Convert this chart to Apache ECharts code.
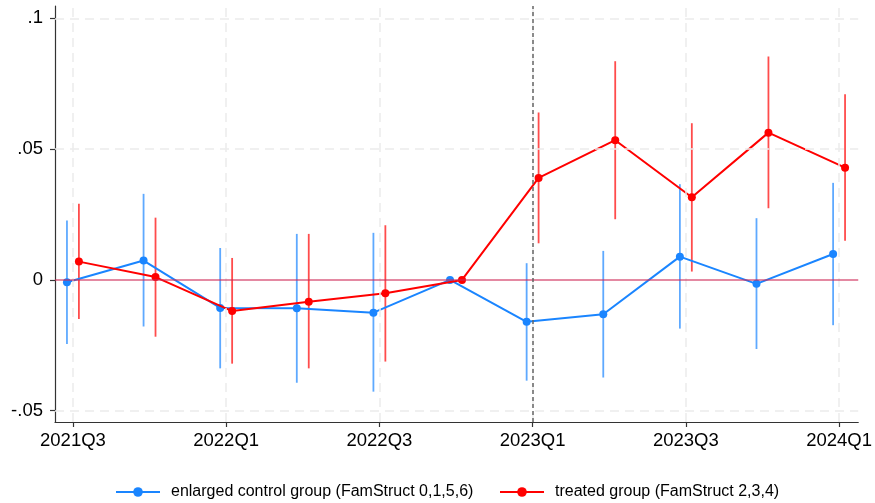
<!DOCTYPE html>
<html>
<head>
<meta charset="utf-8">
<script src="https://cdn.jsdelivr.net/npm/echarts@6/dist/echarts.min.js"></script>
<style>html,body{margin:0;padding:0;background:#fff;}#c{width:875px;height:503px;}</style>
</head>
<body>
<div id="c"></div>
<script>
const quarters = ['2021Q3','2021Q4','2022Q1','2022Q2','2022Q3','2022Q4','2023Q1','2023Q2','2023Q3','2023Q4','2024Q1'];
const xTickIdx = [0, 2, 4, 6, 8, 10];
const yTicks = [-0.05, 0, 0.05, 0.1];
const controlCoef = [-0.0009, 0.0074, -0.0107, -0.0108, -0.0125, 0, -0.0160, -0.0131, 0.0089, -0.0015, 0.0099];
const controlLo   = [-0.0245, -0.0178, -0.0338, -0.0393, -0.0427, null, -0.0385, -0.0373, -0.0186, -0.0264, -0.0173];
const controlHi   = [0.0227, 0.0329, 0.0122, 0.0176, 0.0180, null, 0.0064, 0.0111, 0.0366, 0.0236, 0.0371];
const treatedCoef = [0.0070, 0.0011, -0.0119, -0.0083, -0.0051, 0, 0.0390, 0.0534, 0.0316, 0.0563, 0.0429];
const treatedLo   = [-0.0149, -0.0217, -0.0320, -0.0338, -0.0312, null, 0.0140, 0.0232, 0.0032, 0.0274, 0.0150];
const treatedHi   = [0.0291, 0.0238, 0.0084, 0.0176, 0.0209, null, 0.0640, 0.0836, 0.0599, 0.0854, 0.0710];
const treatIdx = 6;
const controlName = 'enlarged control group (FamStruct 0,1,5,6)';
const treatedName = 'treated group (FamStruct 2,3,4)';

const SHIFT = 0.078;
const BLUE = '#1a85ff';
const RED = '#ff0000';
const FONT = 'Liberation Sans';

function pts(vals, off) { return vals.map((v, i) => [i + off, v]); }
function ci(lo, hi, off) {
  const out = [];
  lo.forEach((l, i) => { if (l !== null && hi[i] !== null) out.push([i + off, l, hi[i]]); });
  return out;
}
function ciSeries(data, color) {
  return {
    type: 'custom', z: 2, silent: true,
    data: data,
    encode: { x: 0, y: [1, 2] },
    renderItem: function (params, api) {
      const a = api.coord([api.value(0), api.value(1)]);
      const b = api.coord([api.value(0), api.value(2)]);
      return { type: 'line', shape: { x1: a[0], y1: a[1], x2: b[0], y2: b[1] },
        style: { stroke: color, lineWidth: 1.8, opacity: 0.7 } };
    }
  };
}
function fmtY(v) {
  if (v === 0) return '0';
  const s = String(Math.abs(v)).replace(/^0/, '');
  return (v < 0 ? '-' : '') + s;
}

const gridDash = { color: '#ebebeb', width: 1.5, type: [9, 6] };
const legendText = {
  fontSize: 16, fontFamily: FONT, color: '#000',
  rich: { t: { fontSize: 16, fontFamily: FONT, color: '#000', padding: [0, 0, 0, 6] } }
};

const chart = echarts.init(document.getElementById('c'), null, { renderer: 'canvas' });
chart.setOption({
  animation: false,
  backgroundColor: '#fff',
  textStyle: { fontFamily: FONT },
  grid: { left: 55, right: 13, top: 6, bottom: 81, containLabel: false },
  xAxis: {
    type: 'value', min: -0.234, max: 10.25,
    axisLine: { show: true, onZero: false, lineStyle: { color: '#333', width: 1.2 } },
    axisTick: { show: true, length: 5, customValues: xTickIdx, lineStyle: { color: '#333', width: 1.2 } },
    axisLabel: { customValues: xTickIdx, formatter: v => quarters[Math.round(v)], color: '#000', fontSize: 18.5, fontFamily: FONT, margin: 9 },
    splitLine: { show: false }
  },
  yAxis: {
    type: 'value', min: -0.0543, max: 0.1047,
    axisLine: { show: true, onZero: false, lineStyle: { color: '#333', width: 1.2 } },
    axisTick: { show: true, length: 5, customValues: yTicks, lineStyle: { color: '#333', width: 1.2 } },
    axisLabel: { customValues: yTicks, formatter: fmtY, color: '#000', fontSize: 18.5, fontFamily: FONT, margin: 12 },
    splitLine: { show: false }
  },
  legend: [
    { data: [controlName], left: 115, top: 484, itemWidth: 44, itemHeight: 12, padding: 0,
      formatter: '{t|{name}}', textStyle: legendText },
    { data: [treatedName], left: 499, top: 484, itemWidth: 44, itemHeight: 12, padding: 0,
      formatter: '{t|{name}}', textStyle: legendText }
  ],
  series: [
    {
      type: 'line', name: '_grid', z: 0, silent: true, data: [[0, 0]], symbol: 'none',
      lineStyle: { opacity: 0 }, legendHoverLink: false,
      markLine: {
        silent: true, symbol: ['none', 'none'], label: { show: false }, animation: false,
        data: [
          ...xTickIdx.map(i => ({ xAxis: i, lineStyle: gridDash })),
          ...yTicks.filter(v => v !== 0).map(v => ({ yAxis: v, lineStyle: gridDash })),
          { yAxis: 0, lineStyle: { color: 'rgba(205,40,85,0.55)', width: 2, type: 'solid' } },
          { xAxis: treatIdx, lineStyle: { color: '#666', width: 1.5, type: [4, 3] } }
        ]
      }
    },
    ciSeries(ci(controlLo, controlHi, -SHIFT), BLUE),
    ciSeries(ci(treatedLo, treatedHi, SHIFT), RED),
    {
      type: 'line', name: controlName, z: 3, data: pts(controlCoef, -SHIFT),
      symbol: 'circle', symbolSize: 8, showSymbol: true,
      itemStyle: { color: BLUE }, lineStyle: { color: BLUE, width: 2 }
    },
    {
      type: 'line', name: treatedName, z: 4, data: pts(treatedCoef, SHIFT),
      symbol: 'circle', symbolSize: 8, showSymbol: true,
      itemStyle: { color: RED }, lineStyle: { color: RED, width: 2 }
    }
  ]
});
</script>
</body>
</html>
